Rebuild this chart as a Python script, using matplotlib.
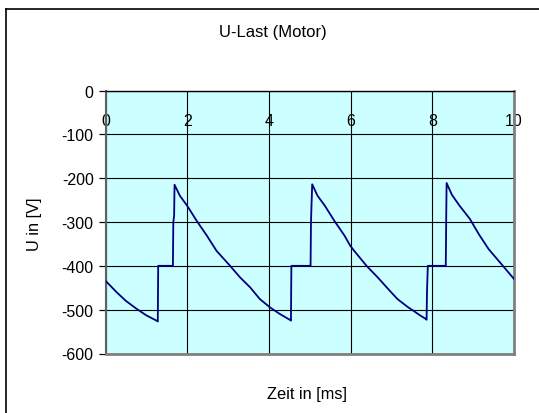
import matplotlib.pyplot as plt
from matplotlib.lines import Line2D

plt.rcParams["font.family"] = ["Liberation Sans", "DejaVu Sans"]

zeit_ms = [0.0, 0.27, 0.5, 0.76, 1.0, 1.25, 1.28,
           1.29, 1.65, 1.66, 1.68, 1.69,
           1.82, 2.0, 2.23, 2.48, 2.72, 3.05, 3.29, 3.54, 3.78, 4.03, 4.27,
           4.51, 4.54,
           4.55, 5.02, 5.03, 5.04, 5.06,
           5.19, 5.37, 5.6, 5.85, 5.99, 6.09, 6.39, 6.66, 6.96, 7.15, 7.4,
           7.53, 7.7, 7.84, 7.86,
           7.87, 7.89, 8.33, 8.34, 8.35,
           8.48, 8.66, 8.92, 9.14, 9.38, 9.71, 10.0]
u_last = [-434, -460, -480, -498, -513, -525, -527,
          -400, -400, -301, -285, -215,
          -240, -263, -297, -331, -366, -400, -426, -449, -476, -495, -510,
          -523, -525,
          -400, -400, -302, -270, -214,
          -240, -263, -297, -331, -354, -366, -400, -426, -457, -476, -494,
          -502, -513, -521, -523,
          -460, -400, -400, -297, -211,
          -238, -262, -293, -328, -362, -398, -430]

x_ticks = [0, 2, 4, 6, 8, 10]
y_ticks = [0, -100, -200, -300, -400, -500, -600]

fig = plt.figure(figsize=(5.39, 4.14), dpi=100)
ax = fig.add_axes([105.5 / 539, 1 - 354.5 / 414, 408.5 / 539, 263 / 414])
ax.set_facecolor("#ccffff")

ax.plot(zeit_ms, u_last, color="#000080", linewidth=1.3, zorder=3)

ax.set_xlim(0, 10)
ax.set_ylim(-600, 0)
ax.set_xticks(x_ticks)
ax.set_yticks(y_ticks)
ax.set_xticklabels([str(v) for v in x_ticks])
ax.set_yticklabels([str(v) for v in y_ticks])
ax.grid(True, color="black", linewidth=0.8, zorder=1)

# x-Achse liegt bei U = 0, Beschriftung innerhalb der Fläche
ax.xaxis.tick_top()
ax.tick_params(axis="x", length=0, pad=-27, labelsize=11.5, labelcolor="black")
ax.tick_params(axis="y", direction="out", length=5, width=0.9,
               labelsize=11.5, pad=3.5)

ax.spines["top"].set_color("black")
ax.spines["top"].set_linewidth(1.0)
ax.spines["left"].set_color("#606060")
ax.spines["left"].set_linewidth(1.5)
ax.spines["right"].set_color("#808080")
ax.spines["right"].set_linewidth(2)
ax.spines["bottom"].set_color("#808080")
ax.spines["bottom"].set_linewidth(2)

fig.text(273 / 539, 1 - 33 / 414, "U-Last (Motor)", ha="center", va="center",
         fontsize=12)
fig.text(307 / 539, 1 - 395 / 414, "Zeit in [ms]", ha="center", va="center",
         fontsize=11.8)
fig.text(35 / 539, 1 - 224 / 414, "U in [V]", ha="center", va="center",
         rotation=90, fontsize=11.8)

# Rahmen des Diagramms
fig.add_artist(Line2D([5.7 / 539, 1.0], [1 - 10 / 414, 1 - 10 / 414],
                      transform=fig.transFigure, color="black", linewidth=1.2))
fig.add_artist(Line2D([5.7 / 539, 5.7 / 539], [0.0, 1 - 10 / 414],
                      transform=fig.transFigure, color="black", linewidth=1.2))

fig.savefig("out.png", dpi=100)
